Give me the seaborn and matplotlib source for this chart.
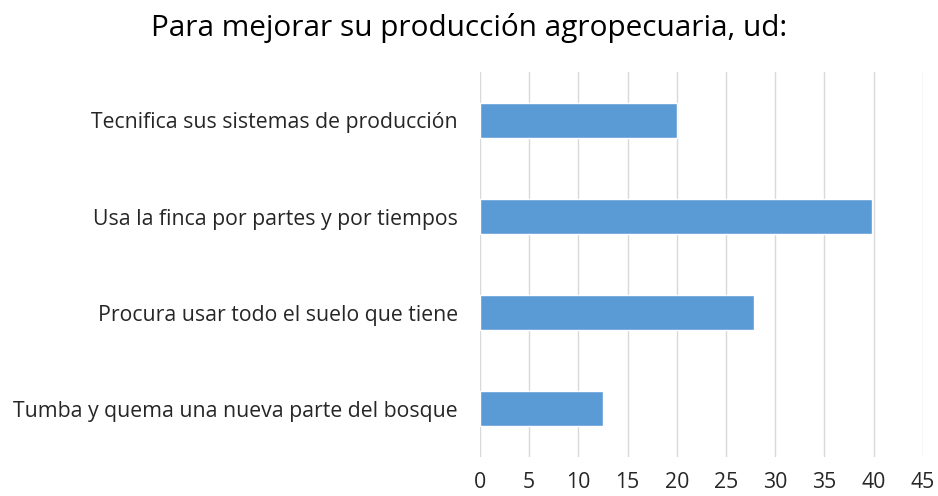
import matplotlib
matplotlib.use('Agg')
import matplotlib.pyplot as plt
import seaborn as sns
import pandas as pd

# data
categorias = [
    'Tecnifica sus sistemas de producción',
    'Usa la finca por partes y por tiempos',
    'Procura usar todo el suelo que tiene',
    'Tumba y quema una nueva parte del bosque',
]
valores = [20, 39.8, 27.9, 12.5]
ticks_x = [0, 5, 10, 15, 20, 25, 30, 35, 40, 45]
titulo = 'Para mejorar su producción agropecuaria, ud:'

df = pd.DataFrame({'categoria': categorias, 'valor': valores})

sns.set_style('white')
plt.rcParams['font.family'] = ['Open Sans', 'DejaVu Sans']

fig = plt.figure(figsize=(9.38, 4.96), dpi=100)
ax = fig.add_axes([0.5117, 0.079, 0.472, 0.775])

sns.barplot(data=df, x='valor', y='categoria', color='#5B9BD5',
            saturation=1, width=0.36, ax=ax)

ax.set_xlim(0, 45)
ax.set_xticks(ticks_x)
ax.grid(axis='x', color='#D9D9D9', linewidth=1)
ax.set_axisbelow(True)
for s in ax.spines.values():
    s.set_visible(False)
ax.set_xlabel('')
ax.set_ylabel('')
ax.tick_params(axis='both', length=0, labelsize=15.3)
ax.tick_params(axis='x', pad=11)
ax.tick_params(axis='y', pad=16)
for lbl in ax.get_xticklabels() + ax.get_yticklabels():
    lbl.set_color('#262626')

fig.text(0.5, 0.944, titulo, ha='center', va='center', fontsize=21.4, color='#000000')

fig.savefig('out.png', dpi=100)
